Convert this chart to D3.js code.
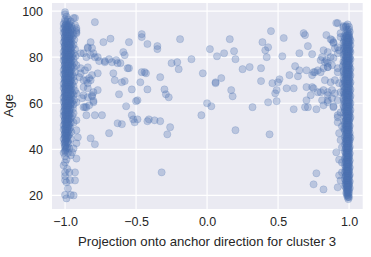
<!DOCTYPE html>
<html>
<head>
<meta charset="utf-8">
<script src="https://cdn.jsdelivr.net/npm/d3@7"></script>
<style>
  body { margin: 0; background: #fff; }
  svg text { font-family: "Liberation Sans", Arial, sans-serif; fill: #262626; }
</style>
</head>
<body>
<script>
// tick values
var xTicks = [-1.0, -0.5, 0.0, 0.5, 1.0];
var yTicks = [20, 40, 60, 80, 100];

// scattered points between the two clusters: [projection, age]
var sparsePoints = [
  [-0.93,97],[-0.79,95.2],[-0.92,91.7],[-0.92,90.4],[-0.82,86.5],[-0.73,86.5],[-0.68,88],[-0.55,86.5],
  [-0.46,90],[-0.46,88.7],[-0.42,85.7],[-0.35,84.8],[-0.35,83.5],[-0.19,87.8],[0.02,83.5],[0.07,80.4],
  [-0.84,83.9],[-0.89,81.7],[-0.87,81.7],[-0.85,80],[-0.77,80],[-0.72,77.8],[-0.69,79.1],[-0.67,77.8],
  [-0.64,78.7],[-0.63,77.4],[-0.61,77.4],[-0.59,82.2],[-0.58,80.9],[-0.56,75.2],[-0.55,75.2],[-0.46,73.5],
  [-0.44,73.5],[-0.43,73],[-0.33,71.3],[-0.25,77.4],[-0.21,77.8],[-0.2,74.8],[-0.11,79.1],[-0.03,73],
  [0.06,69.1],[-0.66,73],[-0.77,73],[-0.89,73],[-0.65,70],[-0.6,69.1],[-0.58,69.6],[-0.85,70],[-0.82,70],
  [-0.84,68.7],[-0.47,69.1],[-0.53,66],[-0.42,66],[-0.3,66],[-0.29,63.9],[-0.27,62.6],[-0.62,63.9],
  [-0.5,60.9],[-0.49,61.3],[-0.57,58.7],[0.0,60],[0.03,58.7],[-0.87,63.5],[-0.81,63],[-0.8,61],
  [-0.85,58.3],[-0.85,54.8],[-0.79,54.8],[-0.74,54.8],[-0.53,54.8],[-0.52,53],[-0.49,53],[-0.51,51.7],
  [-0.42,52.2],[-0.41,53],[-0.37,52.6],[-0.33,52.2],[-0.63,51.3],[-0.6,50.9],[-0.26,49.6],[-0.04,54.8],
  [-0.28,46.5],[-0.32,30],[-0.82,44.8],[-0.79,42.2],[-0.69,47],
  [-0.94,97],[-0.93,93.9],[-0.92,92.6],[-0.92,90.9],[-0.84,84.3],[-0.81,83.9],[-0.82,80.9],[-0.8,81.7],
  [-0.79,80],[-0.76,78.3],[-0.72,78.3],[-0.92,76.5],[-0.89,75.2],[-0.86,74.3],[-0.84,75.6],[-0.9,71.3],
  [-0.87,70],[-0.83,70.9],[-0.81,72.2],[-0.87,67],[-0.84,66.5],[-0.8,64.8],[-0.77,65.7],[-0.92,64.3],
  [-0.88,62.2],[-0.84,62.6],[-0.81,63.5],[-0.86,58.3],[-0.83,59.1],[-0.92,60.4],[-0.87,58.3],[-0.8,60.4],
  [-0.94,55.7],[-0.92,52.6],[-0.92,48.3],[-0.91,45.2],[-0.94,40.4],[-0.92,42.6],[-0.95,38.7],[-0.96,37.4],
  [-0.92,36],[-0.93,30],[-0.93,26.5],[-0.94,20],
  [0.91,94.8],[0.92,94.8],[0.96,93],[0.45,91.3],[0.16,87.8],[0.54,88.3],[0.68,90.4],[0.69,89.6],
  [0.39,86.5],[0.43,84.3],[0.41,83],[0.42,80],[0.84,89.6],[0.88,87.4],[0.89,86.1],[0.92,84.3],[0.71,84.8],
  [0.12,81.7],[0.19,82.6],[0.2,79.1],[0.53,80.4],[0.65,81.7],[0.74,81.3],[0.85,82.2],[0.25,74.8],[0.3,75.7],
  [0.38,75.2],[0.62,76.1],[0.65,74.3],[0.7,74.3],[0.75,73.5],[0.8,73.5],[0.8,78.7],[0.83,77.8],[0.85,77.4],
  [0.85,75.7],[0.06,68.7],[0.1,70.9],[0.38,69.6],[0.46,68.7],[0.5,69.1],[0.51,70.4],[0.58,72.2],[0.64,71.7],
  [0.56,66.5],[0.61,66.5],[0.7,67],[0.74,67],[0.49,65.7],[0.48,64.3],[0.17,65.7],[0.18,63],[0.43,60.4],
  [0.49,60.9],[0.7,61.3],[0.73,63.5],[0.8,64.8],[0.85,63.5],[0.85,61.3],[0.61,57.4],[0.69,58.3],[0.71,58.3],
  [0.77,57.4],[0.32,58.3],[0.2,48.3],[0.44,46.5],[0.89,58.3],[0.92,54.8],[0.92,53.9],[0.82,59.1],[0.89,58.7],
  [0.91,38.7],[0.77,29.6],[0.75,24.8],[0.82,22.6],[0.92,23.5],[0.93,28.7],[0.94,26.5],[0.95,34.3],[0.95,40.9],
  [0.92,51.7],[0.93,47],[0.94,44],
  [0.96,93.5],[0.98,93.5],[0.87,87.8],[0.89,86.5],[0.94,90.4],[0.94,88.7],[0.82,83],[0.81,80],[0.84,78.7],
  [0.87,80],[0.89,79.6],[0.9,83.9],[0.92,81.7],[0.93,83],[0.76,73.5],[0.74,72.2],[0.78,74.3],[0.82,75.2],
  [0.85,75.7],[0.88,76.5],[0.92,75.2],[0.92,73.5],[0.83,70],[0.87,69.1],[0.9,70],[0.93,68.7],[0.75,66.5],
  [0.78,64.8],[0.82,65.7],[0.85,64.8],[0.88,65.7],[0.9,64.3],[0.94,64.8],[0.81,61.3],[0.85,60.4],[0.88,62.2],
  [0.92,61.3],[0.94,56],[0.95,50],[0.93,35.5],[0.95,30]
];

// dense cluster near -1: each row is [age, projection, projection, ...]
var leftRows = [
  [99.5,-1.0],[98.6,-1.0],[97.6,-0.99],[96.4,-1.0,-0.98],[95.5,-1.0,-0.985,-0.96],[94.4,-1.01,-0.99,-0.97],
  [93.6,-1.0,-0.98,-0.955],[92.5,-1.01,-0.99,-0.965,-0.95],[91.4,-1.0,-0.975,-0.96],[90.6,-1.01,-0.99,-0.97,-0.945],
  [89.5,-1.0,-0.985,-0.96,-0.94],[88.4,-1.005,-0.99,-0.97,-0.95],[87.6,-1.0,-0.98,-0.965,-0.935],[86.5,-1.01,-0.99,-0.97,-0.955],
  [85.4,-1.0,-0.98,-0.96,-0.94],[84.6,-1.005,-0.995,-0.97,-0.95],[83.5,-1.0,-0.98,-0.96,-0.93],[82.4,-1.01,-0.99,-0.975,-0.955],
  [81.6,-1.0,-0.985,-0.96,-0.94],[80.5,-1.01,-0.99,-0.97,-0.95,-0.925],[79.4,-1.0,-0.98,-0.965,-0.94],[78.6,-1.01,-0.995,-0.97,-0.955],
  [77.5,-1.0,-0.98,-0.96,-0.935],[76.4,-1.005,-0.99,-0.975,-0.95],[75.6,-1.0,-0.985,-0.96,-0.94],[74.5,-1.01,-0.99,-0.97,-0.955],
  [73.4,-1.0,-0.98,-0.965,-0.93],[72.6,-1.01,-0.995,-0.97,-0.95],[71.5,-1.0,-0.98,-0.96,-0.94],[70.4,-1.005,-0.99,-0.975,-0.955],
  [69.6,-1.0,-0.985,-0.96,-0.935],[68.5,-1.01,-0.99,-0.97,-0.95],[67.4,-1.0,-0.98,-0.965,-0.94],[66.6,-1.01,-0.995,-0.97,-0.955],
  [65.5,-1.0,-0.98,-0.96,-0.93],[64.4,-1.005,-0.99,-0.975,-0.95],[63.6,-1.0,-0.985,-0.96,-0.94],[62.5,-1.01,-0.99,-0.97,-0.955],
  [61.4,-1.0,-0.98,-0.965,-0.935],[60.6,-1.01,-0.995,-0.97,-0.95],[59.5,-1.0,-0.98,-0.96,-0.94],[58.4,-1.005,-0.99,-0.975],
  [57.6,-1.0,-0.985,-0.96,-0.945],[56.5,-1.01,-0.99,-0.97],[55.4,-1.0,-0.98,-0.965],[54.6,-1.01,-0.995,-0.97,-0.95],
  [53.5,-1.0,-0.98,-0.96],[52.4,-1.005,-0.99,-0.975],[51.6,-1.0,-0.985,-0.96,-0.94],[50.5,-1.01,-0.99,-0.97],
  [49.4,-1.0,-0.98,-0.965],[48.6,-1.01,-0.995,-0.97],[47.5,-1.0,-0.98,-0.955],[46.4,-1.005,-0.99,-0.97],
  [45.6,-1.0,-0.98],[44.5,-1.01,-0.99,-0.96],[43.4,-1.0,-0.98],[42.6,-1.005,-0.975],[41.5,-1.0],[40.4,-0.99,-0.97],
  [39.6,-1.0],[38.5,-1.01,-0.98],[37,-1.0],[35.6,-0.99],[34.3,-1.0],[33,-1.01],[31.5,-0.985],[30,-1.0,-0.97],
  [28.4,-1.0],[26.6,-1.0,-0.965],[25.7,-0.99],[23,-0.98],[20.2,-1.0,-0.96],[18.7,-0.99]
];

// extra core of the -1 cluster (the solid band)
var leftCore = [
  [94,-0.995,-0.975],[93,-1.0,-0.985,-0.97],[92,-0.995,-0.98],[91,-1.0,-0.99,-0.975],[90,-0.995,-0.98,-0.965],
  [89,-1.0,-0.985,-0.97],[88,-0.995,-0.98,-0.96],[87,-1.0,-0.99,-0.975],[86,-0.995,-0.98,-0.965],[85,-1.0,-0.985,-0.97],
  [84,-0.995,-0.98,-0.96],[83,-1.0,-0.99,-0.975],[82,-0.995,-0.98,-0.965],[81,-1.0,-0.985,-0.97],[80,-0.995,-0.98,-0.96],
  [79,-1.0,-0.99,-0.975],[78,-0.995,-0.98,-0.965],[77,-1.0,-0.985,-0.97],[76,-0.995,-0.98,-0.96],[75,-1.0,-0.99,-0.975],
  [74,-0.995,-0.98,-0.965],[73,-1.0,-0.985,-0.97],[72,-0.995,-0.98,-0.96],[71,-1.0,-0.99,-0.975],[70,-0.995,-0.98,-0.965],
  [69,-1.0,-0.985,-0.97],[68,-0.995,-0.98,-0.96],[67,-1.0,-0.99,-0.975],[66,-0.995,-0.98,-0.965],[65,-1.0,-0.985,-0.97],
  [64,-0.995,-0.98,-0.96],[63,-1.0,-0.99,-0.975],[62,-0.995,-0.98,-0.965],[61,-1.0,-0.985,-0.97],[60,-0.995,-0.98,-0.96],
  [59,-1.0,-0.99,-0.975],[58,-0.995,-0.98,-0.965],[57,-1.0,-0.985,-0.97],[56,-0.995,-0.98],[55,-1.0,-0.99,-0.975],
  [54,-0.995,-0.98],[53,-1.0,-0.985,-0.97],[52,-0.995,-0.98],[51,-1.0,-0.99,-0.975],[50,-0.995,-0.98],
  [49,-1.0,-0.985],[48,-0.995,-0.98],[47,-1.0,-0.99],[46,-0.995,-0.98],[45,-1.0,-0.985],[44,-0.995],[43,-1.0,-0.985],
  [42,-0.995],[41,-1.0,-0.985],[40,-0.995],[39,-1.0]
];

// dense cluster near +1: each row is [age, projection, projection, ...]
var rightRows = [
  [94.2,0.99],[93.1,0.975,1.0],[92.0,0.985,1.0],[91.0,0.99,1.005],[90.1,0.975,0.99,1.0],[89.0,0.98,1.0,0.965],
  [88.0,0.97,0.99,1.005],[87.1,0.98,0.995,0.965,1.01],[86.2,0.975,0.99,1.0,0.96],[85.1,0.98,0.995,1.01,0.97],
  [84.0,0.97,0.985,1.0,0.96],[83.1,0.98,0.99,1.005,0.965],[82.2,0.975,0.99,1.0,1.01],[81.1,0.97,0.985,0.995,0.96],
  [80.0,0.98,0.99,1.005,0.965],[79.1,0.975,0.99,1.0,1.01],[78.0,0.97,0.985,0.995,0.96],[77.2,0.98,0.99,1.005,0.965],
  [76.1,0.975,0.99,1.0,0.955],[75.0,0.97,0.985,0.995,1.01],[74.1,0.98,0.99,1.005,0.96],[73.0,0.975,0.99,1.0,0.965],
  [72.2,0.97,0.985,0.995,1.01],[71.1,0.98,0.99,1.005,0.96],[70.0,0.975,0.99,1.0,0.965],[69.1,0.97,0.985,0.995,1.01],
  [68.2,0.98,0.99,1.005,0.955],[67.1,0.975,0.99,1.0,0.965],[66.0,0.97,0.985,0.995,1.01],[65.1,0.98,0.99,1.005,0.96],
  [64.0,0.975,0.99,1.0,0.965],[63.2,0.97,0.985,0.995,1.01],[62.1,0.98,0.99,1.005,0.96],[61.0,0.975,0.99,1.0,0.965],
  [60.1,0.97,0.985,0.995,1.01],[59.0,0.98,0.99,1.005,0.96],[58.2,0.975,0.99,1.0,0.965],[57.1,0.97,0.985,0.995,1.01],
  [56.0,0.98,0.99,1.005,0.965],[55.1,0.975,0.99,1.0],[54.0,0.97,0.985,0.995,1.01],[53.2,0.98,0.99,1.005],
  [52.1,0.975,0.99,1.0,0.965],[51.0,0.97,0.985,0.995],[50.1,0.98,0.99,1.005],[49.0,0.975,0.99,1.0,0.965],
  [48.2,0.97,0.985,0.995],[47.1,0.98,0.99,1.005],[46.0,0.975,0.99,1.0],[45.1,0.97,0.985,0.995,1.01],
  [44.0,0.98,0.99,1.005],[43.2,0.975,0.99,1.0],[42.1,0.97,0.985,0.995],[41.0,0.98,0.99,1.005],
  [40.1,0.975,0.99,1.0],[39.0,0.97,0.985,0.995],[38.2,0.98,0.99,1.005],[37.1,0.975,0.99,1.0],
  [36.0,0.97,0.985,0.995],[35.1,0.98,0.99,1.005],[34.0,0.975,0.99,1.0],[33.2,0.97,0.985,0.995],
  [32.1,0.98,0.99,1.005],[31.0,0.975,0.99,1.0],[30.1,0.97,0.985,0.995],[29.0,0.98,0.99,1.005],
  [28.2,0.975,0.99,1.0],[27.1,0.97,0.985,0.995],[26.0,0.98,0.99,1.005],[25.1,0.975,0.99,1.0],
  [24.0,0.97,0.985,0.995],[23.2,0.98,0.99,1.005],[22.1,0.985,0.995],[21.0,0.98,0.99,1.0],
  [20.1,0.985,0.995],[19.2,0.99,1.0],[18.4,0.995]
];

// extra core of the +1 cluster (the solid band)
var rightCore = [
  [89.5,0.985,0.995],[88.5,0.98,0.99,1.0],[87.5,0.985,0.995],[86.5,0.98,0.99,1.0],[85.5,0.985,0.995],[84.5,0.98,0.99,1.0],
  [83.5,0.985,0.995],[82.5,0.98,0.99,1.0],[81.5,0.985,0.995],[80.5,0.98,0.99,1.0],[79.5,0.985,0.995],[78.5,0.98,0.99,1.0],
  [77.5,0.985,0.995],[76.5,0.98,0.99,1.0],[75.5,0.985,0.995],[74.5,0.98,0.99,1.0],[73.5,0.985,0.995],[72.5,0.98,0.99,1.0],
  [71.5,0.985,0.995],[70.5,0.98,0.99,1.0],[69.5,0.985,0.995],[68.5,0.98,0.99,1.0],[67.5,0.985,0.995],[66.5,0.98,0.99,1.0],
  [65.5,0.985,0.995],[64.5,0.98,0.99,1.0],[63.5,0.985,0.995],[62.5,0.98,0.99,1.0],[61.5,0.985,0.995],[60.5,0.98,0.99,1.0],
  [59.5,0.985,0.995],[58.5,0.98,0.99,1.0],[57.5,0.985,0.995],[56.5,0.98,0.99,1.0],[55.5,0.985,0.995],[54.5,0.98,0.99,1.0],
  [53.5,0.985,0.995],[52.5,0.98,0.99,1.0],[51.5,0.985,0.995],[50.5,0.98,0.99,1.0],[49.5,0.985,0.995],[48.5,0.98,0.99,1.0],
  [47.5,0.985,0.995],[46.5,0.98,0.99,1.0],[45.5,0.985,0.995],[44.5,0.98,0.99,1.0],[43.5,0.985,0.995],[42.5,0.98,0.99,1.0],
  [41.5,0.985,0.995],[40.5,0.98,0.99,1.0],[39.5,0.985,0.995],[38.5,0.98,0.99,1.0],[37.5,0.985,0.995],[36.5,0.98,0.99,1.0],
  [35.5,0.985,0.995],[34.5,0.98,0.99,1.0],[33.5,0.985,0.995],[32.5,0.98,0.99,1.0],[31.5,0.985,0.995],[30.5,0.98,0.99,1.0],
  [29.5,0.985,0.995],[28.5,0.98,0.99,1.0],[27.5,0.985,0.995],[26.5,0.98,0.99,1.0],[25.5,0.985,0.995],[24.5,0.98,0.99,1.0],
  [23.5,0.985,0.995],[22.5,0.99,1.0],[21.5,0.985,0.995],[20.5,0.99],[19.5,0.995]
];

var width = 371, height = 257;
var margin = {left: 52, right: 8.3, top: 3, bottom: 48};

var svg = d3.select("body").append("svg")
    .attr("width", width)
    .attr("height", height);

var x = d3.scaleLinear()
    .domain([-1.092, 1.096])
    .range([margin.left, width - margin.right]);

var y = d3.scaleLinear()
    .domain([14.1, 103.5])
    .range([height - margin.bottom, margin.top]);

// plot background
svg.append("rect")
    .attr("x", margin.left)
    .attr("y", margin.top)
    .attr("width", width - margin.left - margin.right)
    .attr("height", height - margin.top - margin.bottom)
    .attr("fill", "#eaeaf2");

// white grid
svg.append("g").selectAll("line").data(xTicks).join("line")
    .attr("x1", d => x(d)).attr("x2", d => x(d))
    .attr("y1", margin.top).attr("y2", height - margin.bottom)
    .attr("stroke", "#fff").attr("stroke-width", 1.2);
svg.append("g").selectAll("line").data(yTicks).join("line")
    .attr("y1", d => y(d)).attr("y2", d => y(d))
    .attr("x1", margin.left).attr("x2", width - margin.right)
    .attr("stroke", "#fff").attr("stroke-width", 1.2);

// flatten the cluster rows into points
var points = sparsePoints.slice();
leftRows.concat(leftCore, rightRows, rightCore).forEach(function(row){
    for (var i = 1; i < row.length; i++) points.push([row[i], row[0]]);
});

svg.append("g").selectAll("circle").data(points).join("circle")
    .attr("cx", d => x(d[0]))
    .attr("cy", d => y(d[1]))
    .attr("r", 3.6)
    .attr("fill", "#4c72b0")
    .attr("fill-opacity", 0.3)
    .attr("stroke", "#4c72b0")
    .attr("stroke-opacity", 0.3)
    .attr("stroke-width", 0.7);

// axes without tick marks
var xAxis = svg.append("g")
    .attr("transform", "translate(0," + (height - margin.bottom) + ")")
    .call(d3.axisBottom(x).tickValues(xTicks).tickSize(0).tickPadding(8)
        .tickFormat(d => d3.format(".1f")(d).replace("-", "\u2212")));
var yAxis = svg.append("g")
    .attr("transform", "translate(" + margin.left + ",0)")
    .call(d3.axisLeft(y).tickValues(yTicks).tickSize(0).tickPadding(9));
[xAxis, yAxis].forEach(function(a){
    a.select(".domain").remove();
    a.selectAll("text").attr("font-size", 12.5).attr("fill", "#262626")
        .style("font-family", "'Liberation Sans', Arial, sans-serif");
});

// axis labels
svg.append("text")
    .attr("x", x(0))
    .attr("y", 246)
    .attr("text-anchor", "middle")
    .attr("font-size", 13.2)
    .text("Projection onto anchor direction for cluster 3");

svg.append("text")
    .attr("transform", "translate(13," + y(59) + ") rotate(-90)")
    .attr("text-anchor", "middle")
    .attr("font-size", 13.2)
    .text("Age");
</script>
</body>
</html>
